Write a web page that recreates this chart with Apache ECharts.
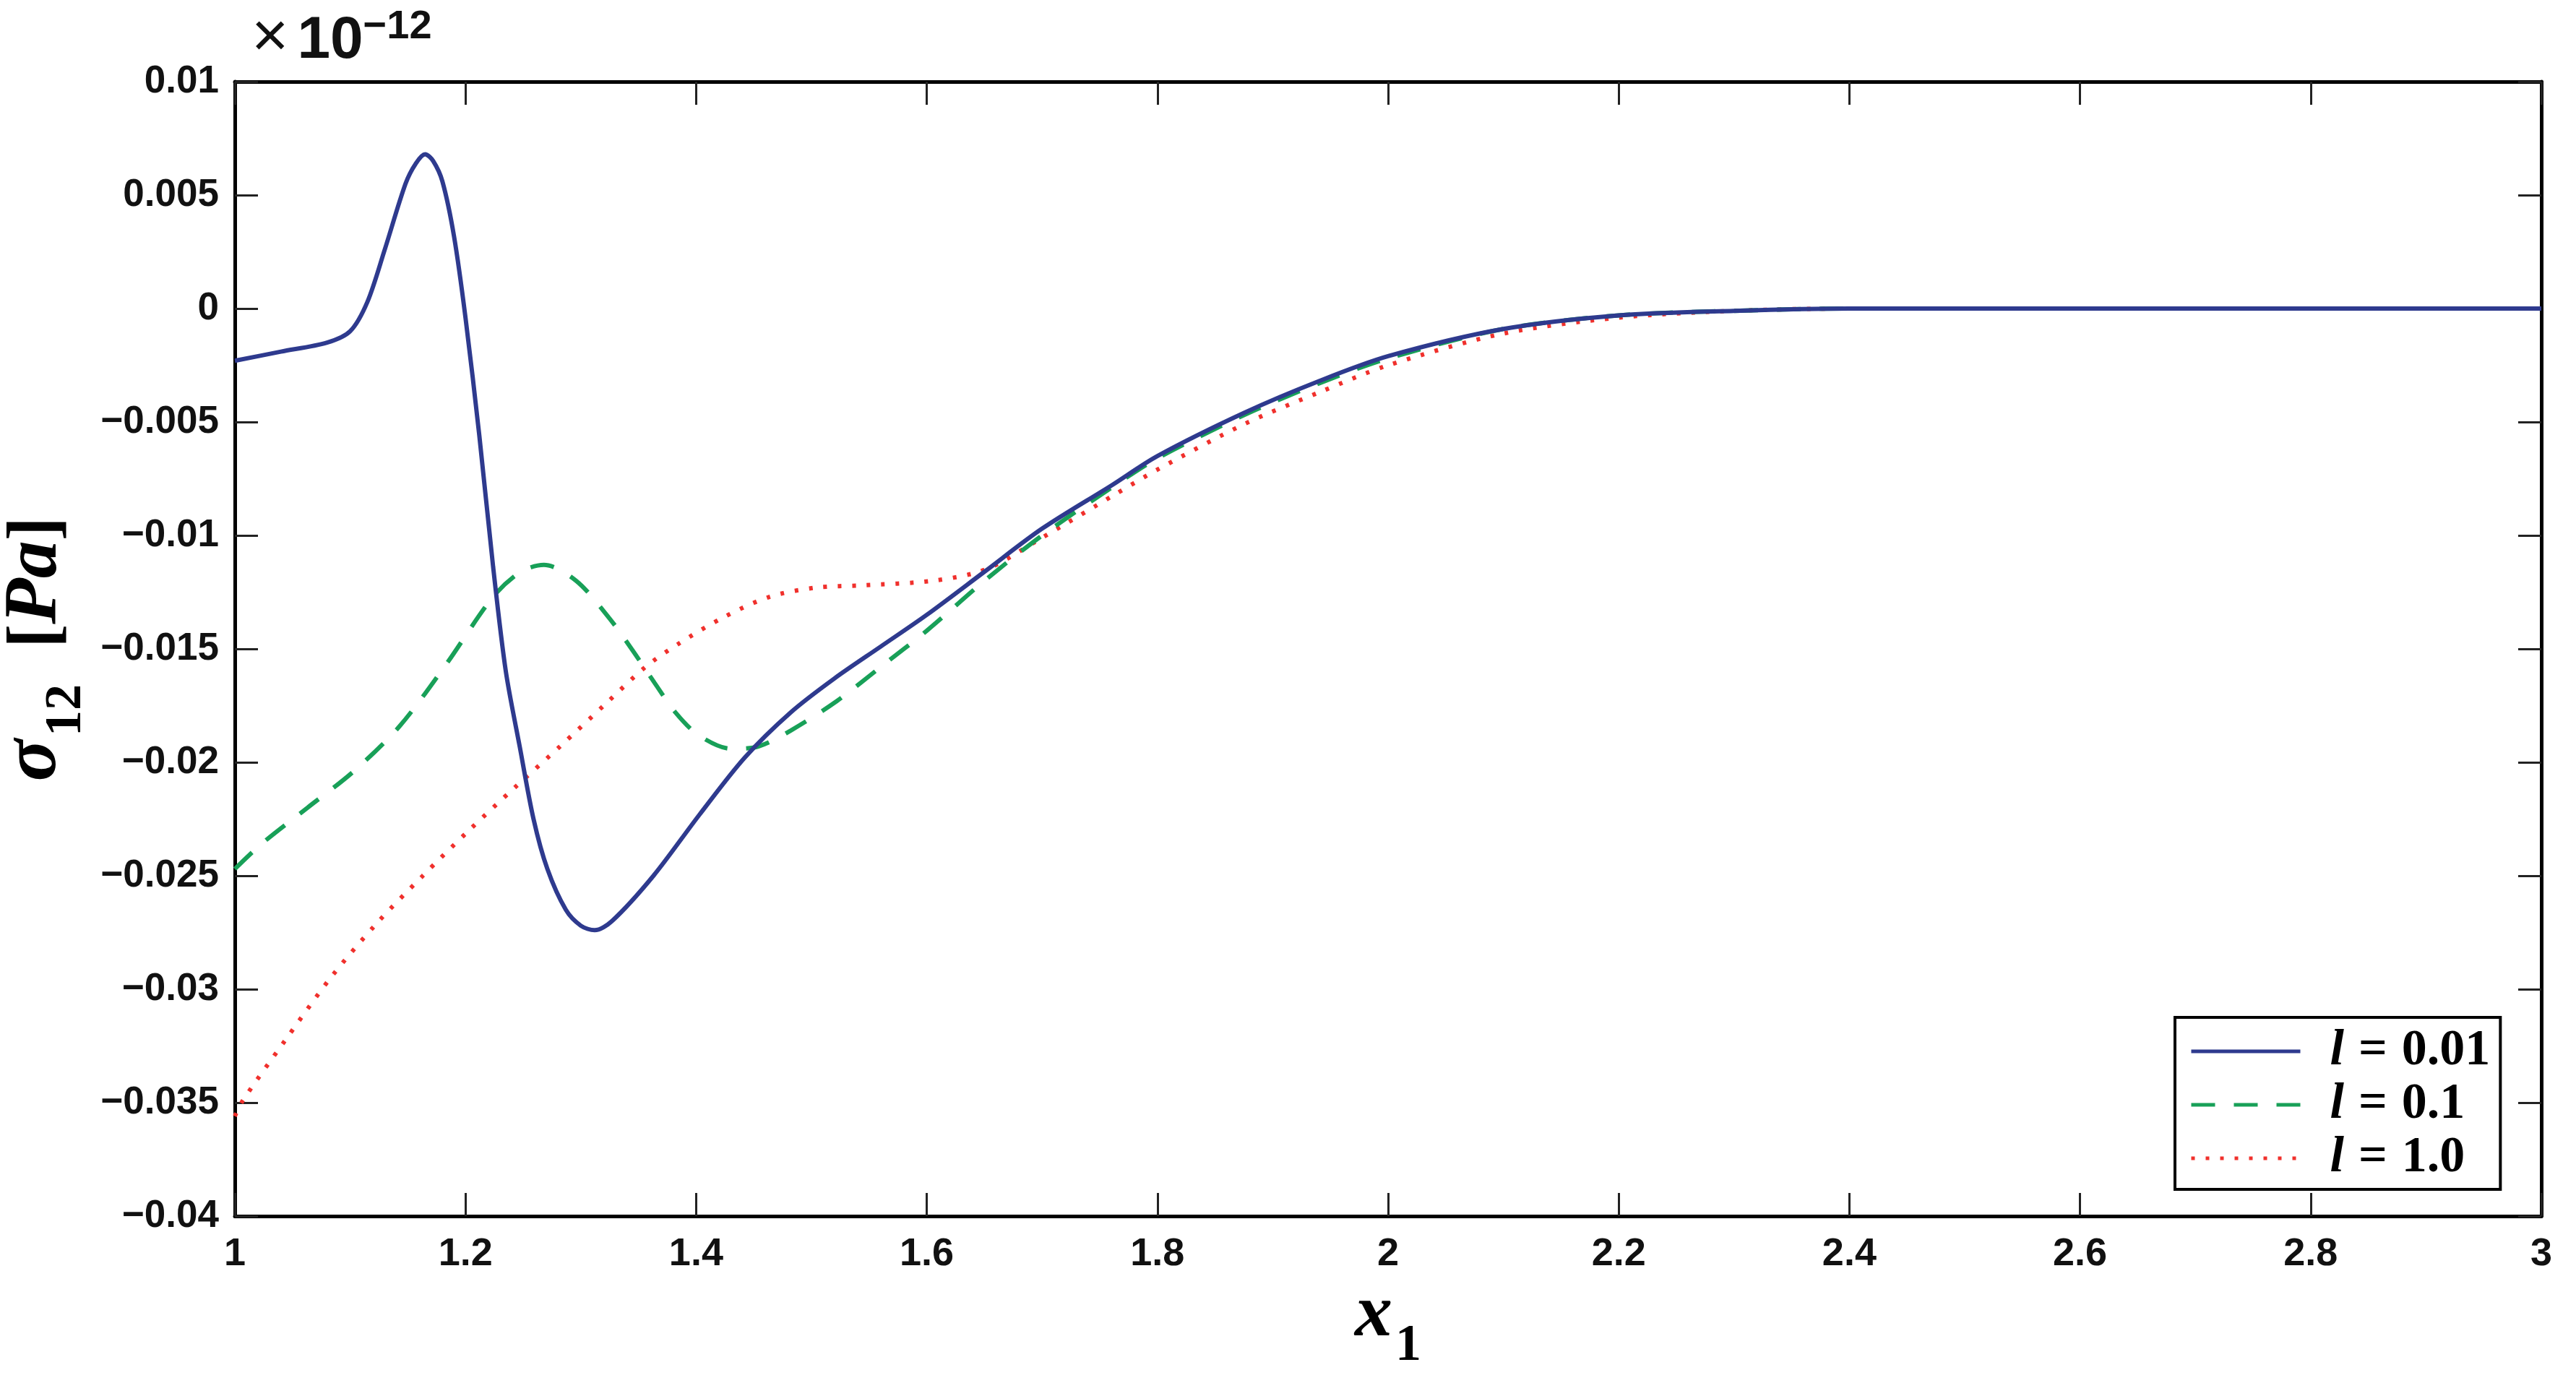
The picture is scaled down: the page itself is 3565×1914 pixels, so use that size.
<!DOCTYPE html>
<html>
<head>
<meta charset="utf-8">
<script src="https://cdn.jsdelivr.net/npm/echarts@6/dist/echarts.min.js"></script>
<style>
html,body{margin:0;padding:0;background:#fff;}
#chart{width:3565px;height:1914px;}
</style>
</head>
<body>
<div id="chart"></div>
<script>
// ---- data (values in units of 1e-12 Pa) ----
const seriesNames = ['l = 0.01', 'l = 0.1', 'l = 1.0'];

const blueX = [1.0, 1.04, 1.08, 1.1, 1.115, 1.13, 1.148, 1.157, 1.165, 1.172, 1.18, 1.19, 1.2, 1.212, 1.224, 1.235, 1.247, 1.259, 1.271, 1.287, 1.3, 1.312, 1.327, 1.363, 1.403, 1.442, 1.482, 1.52, 1.56, 1.6, 1.65, 1.7, 1.76, 1.8, 1.875, 1.94, 2.0, 2.1, 2.2, 2.3, 2.4, 2.6, 2.8, 3.0];
const blueY = [-0.0023, -0.0019, -0.0015, -0.0010, 0.0003, 0.0026, 0.0055, 0.0064, 0.0068, 0.0065, 0.0056, 0.0032, -0.0004, -0.0056, -0.0114, -0.0160, -0.0193, -0.0225, -0.0247, -0.0265, -0.0272, -0.0274, -0.0270, -0.0250, -0.0223, -0.0198, -0.0178, -0.0163, -0.0149, -0.0135, -0.0116, -0.0097, -0.0078, -0.0065, -0.0046, -0.0032, -0.0021, -0.0009, -0.0003, -0.0001, 0, 0, 0, 0];

const greenX = [1.0, 1.023, 1.063, 1.103, 1.143, 1.183, 1.224, 1.248, 1.268, 1.296, 1.324, 1.344, 1.364, 1.382, 1.402, 1.43, 1.454, 1.482, 1.522, 1.56, 1.6, 1.65, 1.7, 1.76, 1.8, 1.875, 1.94, 2.0, 2.1, 2.2, 2.3, 2.4, 2.6, 2.8, 3.0];
const greenY = [-0.0247, -0.0236, -0.0220, -0.0204, -0.0184, -0.0157, -0.0127, -0.0116, -0.0113, -0.0120, -0.0136, -0.0150, -0.0165, -0.0178, -0.0188, -0.0194, -0.0193, -0.0186, -0.0173, -0.0158, -0.0142, -0.0120, -0.0100, -0.0079, -0.0066, -0.0047, -0.0033, -0.0022, -0.0009, -0.0003, -0.0001, 0, 0, 0, 0];

const redX = [1.0, 1.007, 1.043, 1.083, 1.123, 1.163, 1.203, 1.243, 1.282, 1.322, 1.356, 1.384, 1.424, 1.464, 1.504, 1.544, 1.605, 1.651, 1.7, 1.763, 1.8, 1.875, 1.94, 2.0, 2.1, 2.2, 2.3, 2.4, 2.6, 2.8, 3.0];
const redY = [-0.0356, -0.0349, -0.0323, -0.0295, -0.0271, -0.0250, -0.0230, -0.0211, -0.0193, -0.0174, -0.0158, -0.0148, -0.0136, -0.0127, -0.0123, -0.0122, -0.0120, -0.0115, -0.0101, -0.0082, -0.0071, -0.0051, -0.0037, -0.0025, -0.0011, -0.0004, -0.0001, 0, 0, 0, 0];

const xTickLabels = ['1', '1.2', '1.4', '1.6', '1.8', '2', '2.2', '2.4', '2.6', '2.8', '3'];
const yTickLabels = ['−0.04', '−0.035', '−0.03', '−0.025', '−0.02', '−0.015', '−0.01', '−0.005', '0', '0.005', '0.01'];

// ---- helpers ----
const pairs = (xs, ys) => xs.map((x, i) => [x, ys[i]]);
const X_MIN = 1, X_MAX = 3, X_INT = 0.2;
const Y_MIN = -0.04, Y_MAX = 0.01, Y_INT = 0.005;
const xLabel = v => xTickLabels[Math.round((v - X_MIN) / X_INT)] ?? '';
const yLabel = v => yTickLabels[Math.round((v - Y_MIN) / Y_INT)] ?? '';

const SANS = "'Liberation Sans Narrow', 'Liberation Sans', Arial, Helvetica, sans-serif";
const SERIF = "'Liberation Serif', 'Times New Roman', serif";

const tickStyle = { show: true, inside: true, length: 32, lineStyle: { color: '#222', width: 3 } };
const lineAxis = { show: true, onZero: false, lineStyle: { color: '#000', width: 5 } };

const chart = echarts.init(document.getElementById('chart'), null, { renderer: 'canvas' });

const option = {
  backgroundColor: '#fff',
  animation: false,
  grid: { left: 325, right: 48, top: 113, bottom: 231, containLabel: false, outerBoundsMode: 'none' },
  xAxis: [
    {
      type: 'value', min: X_MIN, max: X_MAX, interval: X_INT, position: 'bottom',
      axisLine: lineAxis, axisTick: tickStyle, splitLine: { show: false },
      axisLabel: { formatter: xLabel, fontFamily: SANS, fontWeight: 'bold', fontSize: 54, color: '#111', margin: 26 },
      name: '{x|x}{s|1}', nameLocation: 'middle', nameGap: 86,
      nameTextStyle: {
        rich: {
          x: { fontFamily: SERIF, fontStyle: 'italic', fontWeight: 'bold', fontSize: 104, color: '#000', verticalAlign: 'bottom' },
          s: { fontFamily: SERIF, fontWeight: 'bold', fontSize: 72, color: '#000', verticalAlign: 'bottom', padding: [0, 0, -26, 4] }
        }
      }
    },
    {
      type: 'value', min: X_MIN, max: X_MAX, interval: X_INT, position: 'top',
      axisLine: lineAxis, axisTick: tickStyle, axisLabel: { show: false }, splitLine: { show: false }
    }
  ],
  yAxis: [
    {
      type: 'value', min: Y_MIN, max: Y_MAX, interval: Y_INT, position: 'left',
      axisLine: lineAxis, axisTick: tickStyle, splitLine: { show: false },
      axisLabel: { formatter: yLabel, fontFamily: SANS, fontWeight: 'bold', fontSize: 53, color: '#111', margin: 22 },
      name: '{g|σ}{s|12}{b|  [}{i|Pa}{b|]}', nameLocation: 'middle', nameRotate: 90, nameGap: 196,
      nameTextStyle: {
        rich: {
          g: { fontFamily: SERIF, fontStyle: 'italic', fontWeight: 'bold', fontSize: 108, color: '#000', verticalAlign: 'bottom' },
          s: { fontFamily: SERIF, fontWeight: 'bold', fontSize: 72, color: '#000', verticalAlign: 'bottom', padding: [0, 0, -26, 4] },
          b: { fontFamily: SERIF, fontWeight: 'bold', fontSize: 100, color: '#000', verticalAlign: 'bottom' },
          i: { fontFamily: SERIF, fontStyle: 'italic', fontWeight: 'bold', fontSize: 104, color: '#000', verticalAlign: 'bottom' }
        }
      }
    },
    {
      type: 'value', min: Y_MIN, max: Y_MAX, interval: Y_INT, position: 'right',
      axisLine: lineAxis, axisTick: tickStyle, axisLabel: { show: false }, splitLine: { show: false }
    }
  ],
  legend: {
    orient: 'vertical', left: 3010, top: 1408,
    backgroundColor: '#fff', borderColor: '#000', borderWidth: 4,
    padding: [12, 14, 8, 20],
    itemWidth: 151, itemHeight: 60, itemGap: 4,
    itemStyle: { opacity: 0 },
    lineStyle: { width: 5 },
    data: seriesNames,
    formatter: name => '{i|l}{e|=}{n|' + name.split('= ')[1] + '}',
    textStyle: {
      padding: [0, 0, 0, 36],
      rich: {
        i: { fontFamily: SERIF, fontStyle: 'italic', fontWeight: 'bold', fontSize: 70, lineHeight: 60, color: '#000' },
        e: { fontFamily: SERIF, fontWeight: 'bold', fontSize: 70, lineHeight: 60, color: '#000', padding: [0, 20, 0, 20] },
        n: { fontFamily: SERIF, fontWeight: 'bold', fontSize: 70, lineHeight: 60, color: '#000' }
      }
    }
  },
  graphic: [
    {
      type: 'text', left: 348, top: 10,
      style: {
        text: '{a|×}{b|10}{c|−12}',
        rich: {
          a: { fontFamily: SANS, fontSize: 88, fill: '#111', verticalAlign: 'bottom', padding: [0, 12, 0, 0] },
          b: { fontFamily: SANS, fontWeight: 'bold', fontSize: 82, fill: '#111', verticalAlign: 'bottom' },
          c: { fontFamily: SANS, fontWeight: 'bold', fontSize: 56, fill: '#111', verticalAlign: 'top' }
        }
      }
    }
  ],
  series: [
    {
      name: seriesNames[0], type: 'line', data: pairs(blueX, blueY),
      symbol: 'none', showSymbol: false, smooth: 0.3,
      lineStyle: { color: '#2E3A8E', width: 6, type: 'solid' }, itemStyle: { color: '#2E3A8E' }, z: 4
    },
    {
      name: seriesNames[1], type: 'line', data: pairs(greenX, greenY),
      symbol: 'none', showSymbol: false, smooth: 0.3,
      lineStyle: { color: '#18A058', width: 6, type: [33, 26] }, itemStyle: { color: '#18A058' }, z: 3
    },
    {
      name: seriesNames[2], type: 'line', data: pairs(redX, redY),
      symbol: 'none', showSymbol: false, smooth: 0.3,
      lineStyle: { color: '#F0302C', width: 6, type: [5, 15] }, itemStyle: { color: '#F0302C' }, z: 2
    }
  ]
};

chart.setOption(option);
</script>
</body>
</html>
